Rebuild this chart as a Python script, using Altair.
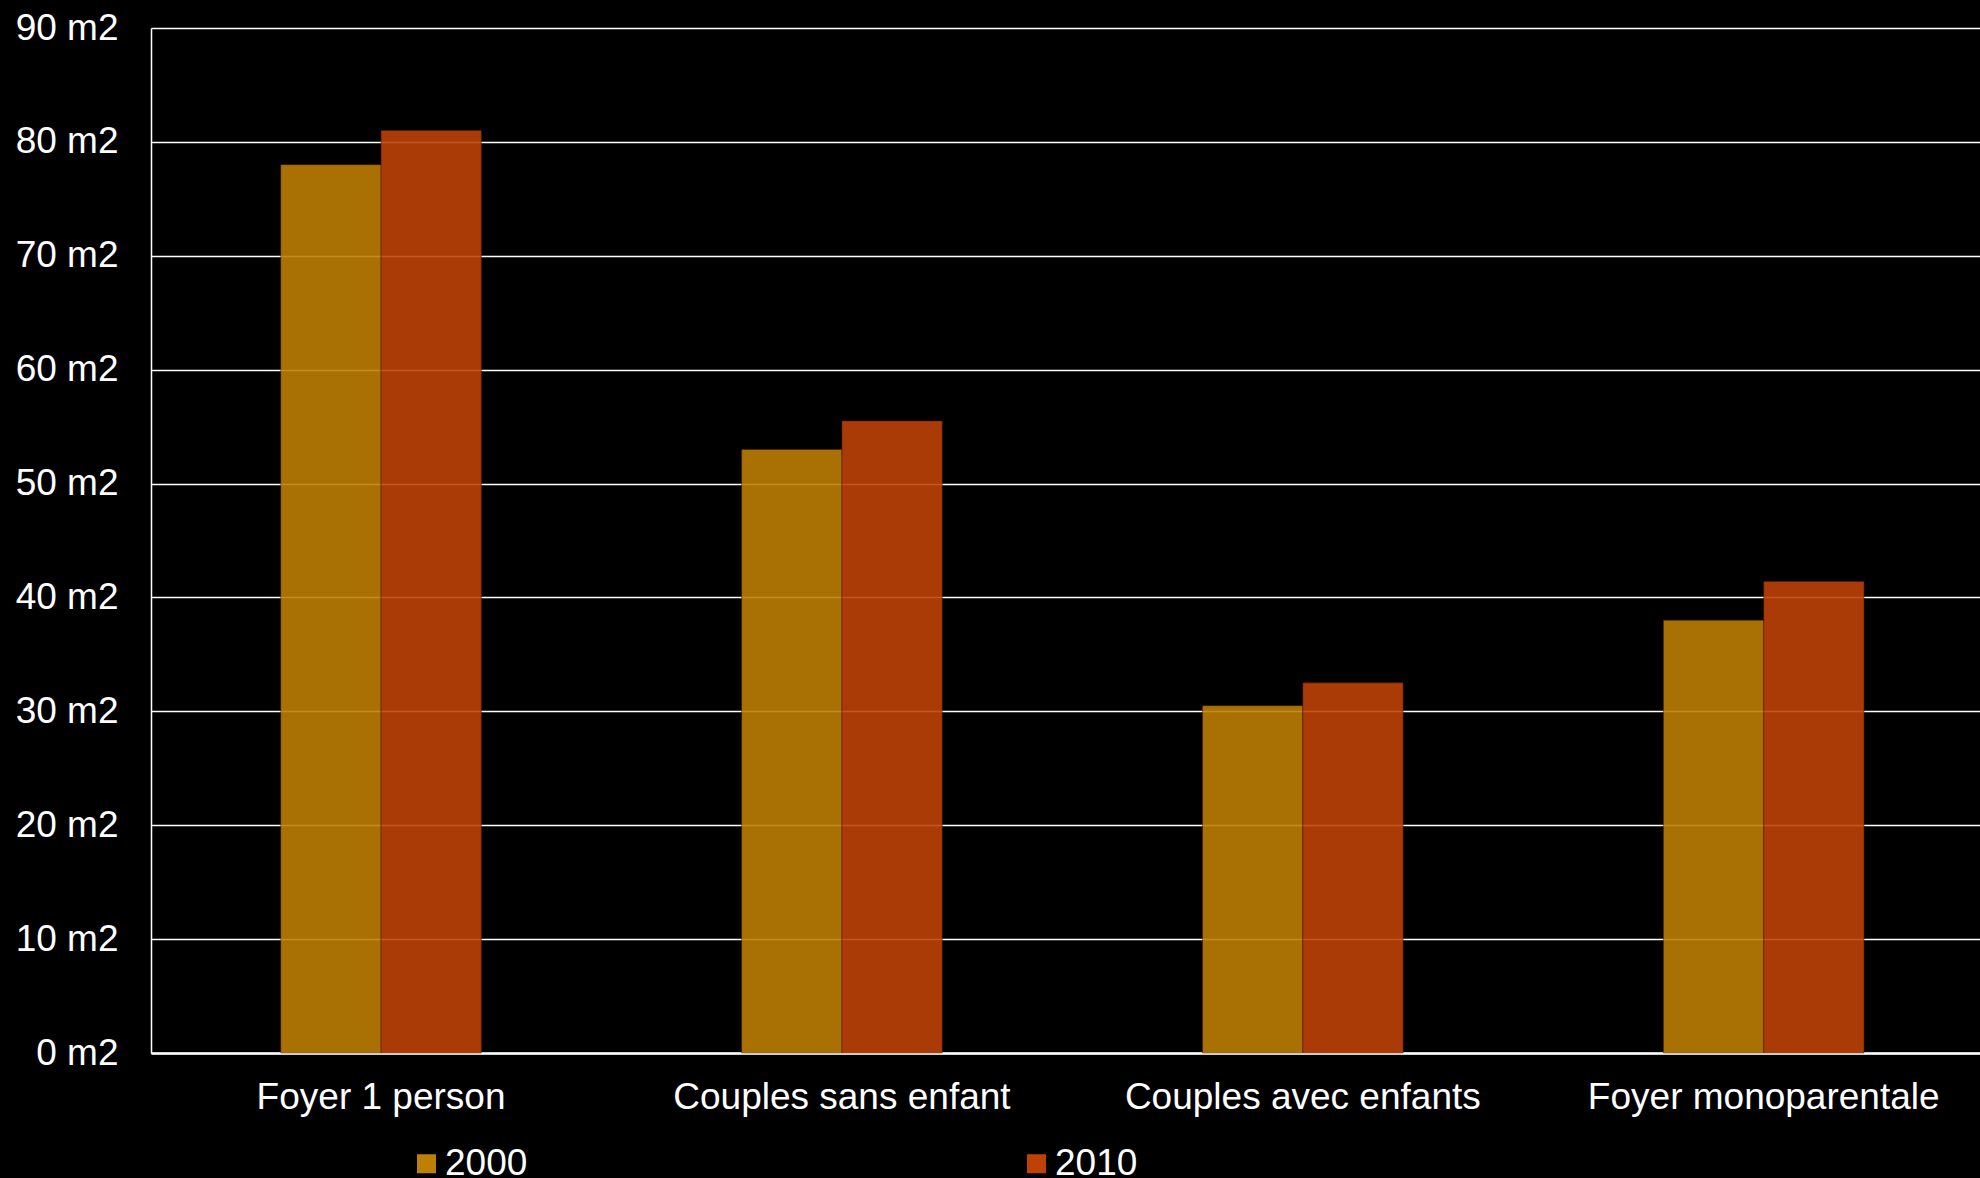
import altair as alt
import pandas as pd

# Average living surface per person, by household type
categories = [
    "Foyer 1 person",
    "Couples sans enfant",
    "Couples avec enfants",
    "Foyer monoparentale",
]
years = ["2000", "2010"]
surface_2000 = [78, 53, 30.5, 38]
surface_2010 = [81, 55.5, 32.5, 41.4]
year_colors = ["#BE7F05", "#BF4107"]
y_ticks = [0, 10, 20, 30, 40, 50, 60, 70, 80, 90]

rows = []
for cat, v0, v1 in zip(categories, surface_2000, surface_2010):
    rows.append({"type": cat, "annee": years[0], "surface": v0})
    rows.append({"type": cat, "annee": years[1], "surface": v1})
df = pd.DataFrame(rows)

FONT = "Liberation Sans"
FS = 37

bars = (
    alt.Chart(df)
    .mark_bar(fillOpacity=0.89, stroke="#4a1a00", strokeWidth=1, strokeOpacity=0.5)
    .encode(
        x=alt.X(
            "type:N",
            sort=categories,
            scale=alt.Scale(paddingInner=0.5648, paddingOuter=0.2666, align=0.528),
            axis=alt.Axis(
                title=None,
                labelAngle=0,
                labelFont=FONT,
                labelFontSize=FS,
                labelColor="white",
                labelPadding=26,
                labelLimit=0,
                labelOverlap=False,
                ticks=False,
                grid=False,
                domainColor="white",
                domainWidth=2.5,
            ),
        ),
        xOffset=alt.XOffset(
            "annee:N", sort=years, scale=alt.Scale(paddingInner=0, paddingOuter=0)
        ),
        y=alt.Y(
            "surface:Q",
            scale=alt.Scale(domain=[0, 90], nice=False),
            axis=alt.Axis(
                title=None,
                values=y_ticks,
                labelExpr="datum.value + ' m2'",
                labelFont=FONT,
                labelFontSize=FS,
                labelColor="white",
                labelPadding=33,
                ticks=False,
                domainColor="white",
                domainWidth=1.5,
                grid=True,
                gridColor="white",
                gridWidth=1.6,
                gridOpacity=1,
            ),
        ),
        color=alt.Color(
            "annee:N",
            sort=years,
            scale=alt.Scale(domain=years, range=year_colors),
            legend=alt.Legend(
                title=None,
                orient="none",
                legendX=257,
                legendY=1117,
                direction="horizontal",
                columns=2,
                columnPadding=490,
                padding=0,
                symbolType="square",
                symbolSize=361,
                symbolStrokeWidth=0,
                symbolOpacity=1,
                symbolOffset=0,
                labelOffset=0,
                labelFont=FONT,
                labelFontSize=FS,
                labelColor="white",
                labelLimit=0,
            ),
        ),
    )
)

chart = (
    bars.properties(
        width=1829,
        height=1025,
        autosize=alt.AutoSizeParams(type="none"),
        padding={"left": 151, "top": 28, "right": 0, "bottom": 125},
    )
    .configure(background="black")
    .configure_view(stroke=None)
)

chart.save("out.html", embed_options={"renderer": "svg", "actions": False})
